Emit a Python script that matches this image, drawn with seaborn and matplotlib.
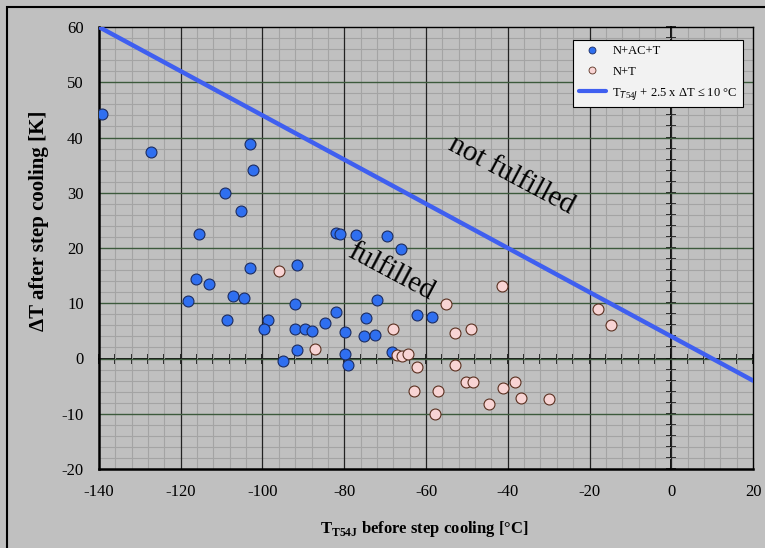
import numpy as np
import pandas as pd
import matplotlib.pyplot as plt
import seaborn as sns
from matplotlib.patches import Rectangle
from matplotlib.lines import Line2D
from matplotlib.ticker import MultipleLocator

# N+AC+T
nact_x = [-139.3, -127.2, -103.1, -102.3, -109.1, -105.2, -115.5, -82.1, -81.1, -77.1,
          -69.5, -66.1, -103.0, -91.5, -116.2, -113.1, -118.3, -107.3, -104.6, -108.7,
          -98.7, -99.6, -95.0, -92.0, -92.0, -89.7, -87.8, -91.5, -84.7, -82.0,
          -79.7, -79.7, -79.0, -74.6, -75.2, -72.4, -71.9, -68.2, -62.1, -58.6]
nact_y = [44.2, 37.3, 38.9, 34.2, 29.9, 26.7, 22.5, 22.7, 22.5, 22.3,
          22.1, 19.9, 16.3, 16.9, 14.3, 13.4, 10.4, 11.4, 11.0, 6.9,
          6.9, 5.3, -0.4, 9.8, 5.4, 5.3, 5.0, 1.5, 6.5, 8.4,
          4.8, 0.9, -1.1, 7.4, 4.1, 4.3, 10.6, 1.2, 7.8, 7.6]

# N+T
nt_x = [-96.0, -87.1, -68.0, -67.2, -65.8, -64.4, -62.1, -63.0, -57.1, -57.9,
        -55.0, -52.9, -49.0, -52.9, -50.1, -48.4, -41.5, -44.6, -41.1, -38.2,
        -36.8, -30.0, -18.0, -14.8]
nt_y = [15.8, 1.7, 5.3, 0.6, 0.4, 0.8, -1.5, -5.8, -5.9, -10.0,
        9.9, 4.6, 5.3, -1.1, -4.3, -4.3, 13.2, -8.2, -5.3, -4.3,
        -7.1, -7.4, 8.9, 6.1]

# Kriterium T + 2.5 x dT <= 10
crit_x = [-140, 20]
crit_y = [60, -4]

x_ticks = [-140, -120, -100, -80, -60, -40, -20, 0, 20]
y_ticks = [-20, -10, 0, 10, 20, 30, 40, 50, 60]

bg = '#c0c0c0'
blue = '#2f6ff0'
pink = '#f8d4d4'
line_blue = '#3f5ff0'

sns.set_theme(style='ticks')
plt.rcParams['font.family'] = ['Liberation Serif', 'DejaVu Serif']
plt.rcParams['mathtext.fontset'] = 'custom'
plt.rcParams['mathtext.rm'] = 'Liberation Serif'
plt.rcParams['mathtext.bf'] = 'Liberation Serif:bold'
plt.rcParams['axes.unicode_minus'] = False
plt.rcParams['text.color'] = 'black'
plt.rcParams['axes.labelcolor'] = 'black'
plt.rcParams['xtick.color'] = 'black'
plt.rcParams['ytick.color'] = 'black'

fig = plt.figure(figsize=(7.65, 5.48), dpi=100, facecolor=bg)
ax = fig.add_axes([99/765, 1 - 469/548, (753 - 99)/765, (469 - 27)/548])
ax.set_facecolor(bg)
ax.set_axisbelow(True)

ax.set_xlim(-140, 20)
ax.set_ylim(-20, 60)
ax.set_xticks(x_ticks)
ax.set_yticks(y_ticks)
ax.xaxis.set_minor_locator(MultipleLocator(4))
ax.yaxis.set_minor_locator(MultipleLocator(2))
ax.grid(which='minor', color='#a4a4a4', lw=0.8)
ax.tick_params(which='both', length=0, labelsize=12, pad=11)

# hauptgitter ueber dem feinen gitter
for xv in x_ticks[1:-1]:
    ax.axvline(xv, color='#222222', lw=0.9, zorder=1.5)
for yv in y_ticks[1:-1]:
    ax.axhline(yv, color='#3c5a3c', lw=1.0, zorder=1.5)

for s in ['top', 'right']:
    ax.spines[s].set_linewidth(1.0)
    ax.spines[s].set_color('black')
for s in ['left', 'bottom']:
    ax.spines[s].set_linewidth(1.8)
    ax.spines[s].set_color('black')

# achsen durch den nullpunkt mit strichen
sx = ax.secondary_xaxis(0.25)
sx.xaxis.set_major_locator(MultipleLocator(4))
sx.tick_params(which='both', direction='inout', length=7, width=1.1, color='black',
               labelbottom=False, labeltop=False, bottom=True, top=False)
for s in sx.spines.values():
    s.set_linewidth(1.3)
    s.set_color('black')
sy = ax.secondary_yaxis(0.875)
sy.yaxis.set_major_locator(MultipleLocator(2))
sy.tick_params(which='both', direction='inout', length=7, width=1.1, color='black',
               labelleft=False, labelright=False, left=True, right=False)
for s in sy.spines.values():
    s.set_linewidth(1.3)
    s.set_color('black')

sns.lineplot(x=crit_x, y=crit_y, color=line_blue, lw=3.2, ax=ax, zorder=3)

df_a = pd.DataFrame({'x': nact_x, 'y': nact_y})
df_b = pd.DataFrame({'x': nt_x, 'y': nt_y})
sns.scatterplot(data=df_a, x='x', y='y', color=blue, edgecolor='#1c2c60', linewidth=0.8,
                s=62, ax=ax, zorder=4)
sns.scatterplot(data=df_b, x='x', y='y', color=pink, edgecolor='#5a3020', linewidth=0.8,
                s=62, ax=ax, zorder=4)

ax.set_xlabel(r'$\mathbf{T}_\mathbf{T54J}$ before step cooling [°C]', fontsize=12,
              fontweight='bold')
ax.xaxis.set_label_coords(0.498, -0.112)
ax.set_ylabel('ΔT after step cooling [K]', fontsize=15, fontweight='bold')
ax.yaxis.set_label_coords(-0.076, 0.561)

ax.text(-39, 33.1, 'not fulfilled', fontsize=21, rotation=-28, ha='center', va='center',
        rotation_mode='anchor', color='black', zorder=5)
ax.text(-68.7, 15.6, 'fulfilled', fontsize=21, rotation=-28, ha='center', va='center',
        rotation_mode='anchor', color='black', zorder=5)

handles = [
    Line2D([], [], ls='none', marker='o', markersize=5, markerfacecolor=blue,
           markeredgecolor='#1c2c60', markeredgewidth=0.6),
    Line2D([], [], ls='none', marker='o', markersize=5, markerfacecolor=pink,
           markeredgecolor='#5a3020', markeredgewidth=0.6),
    Line2D([], [], color=line_blue, lw=3),
]
labels = ['N+AC+T', 'N+T', r'T$_{T54J}$ + 2.5 x ΔT ≤ 10 °C']
leg = ax.legend(handles, labels, loc='upper right', bbox_to_anchor=(0.985, 0.971),
                borderaxespad=0, fontsize=9, frameon=True, fancybox=False, framealpha=1,
                facecolor='#f2f2f2', edgecolor='black', borderpad=0.45,
                labelspacing=0.65, handlelength=2.2, handletextpad=0.5)
leg.get_frame().set_linewidth(0.8)
leg.set_zorder(6)

fig.patches.append(Rectangle((7/765, -0.05), 1.0, 1.05 - 7/548, transform=fig.transFigure,
                             fill=False, ec='black', lw=1.5))

fig.savefig('out.png', dpi=100, facecolor=bg)
